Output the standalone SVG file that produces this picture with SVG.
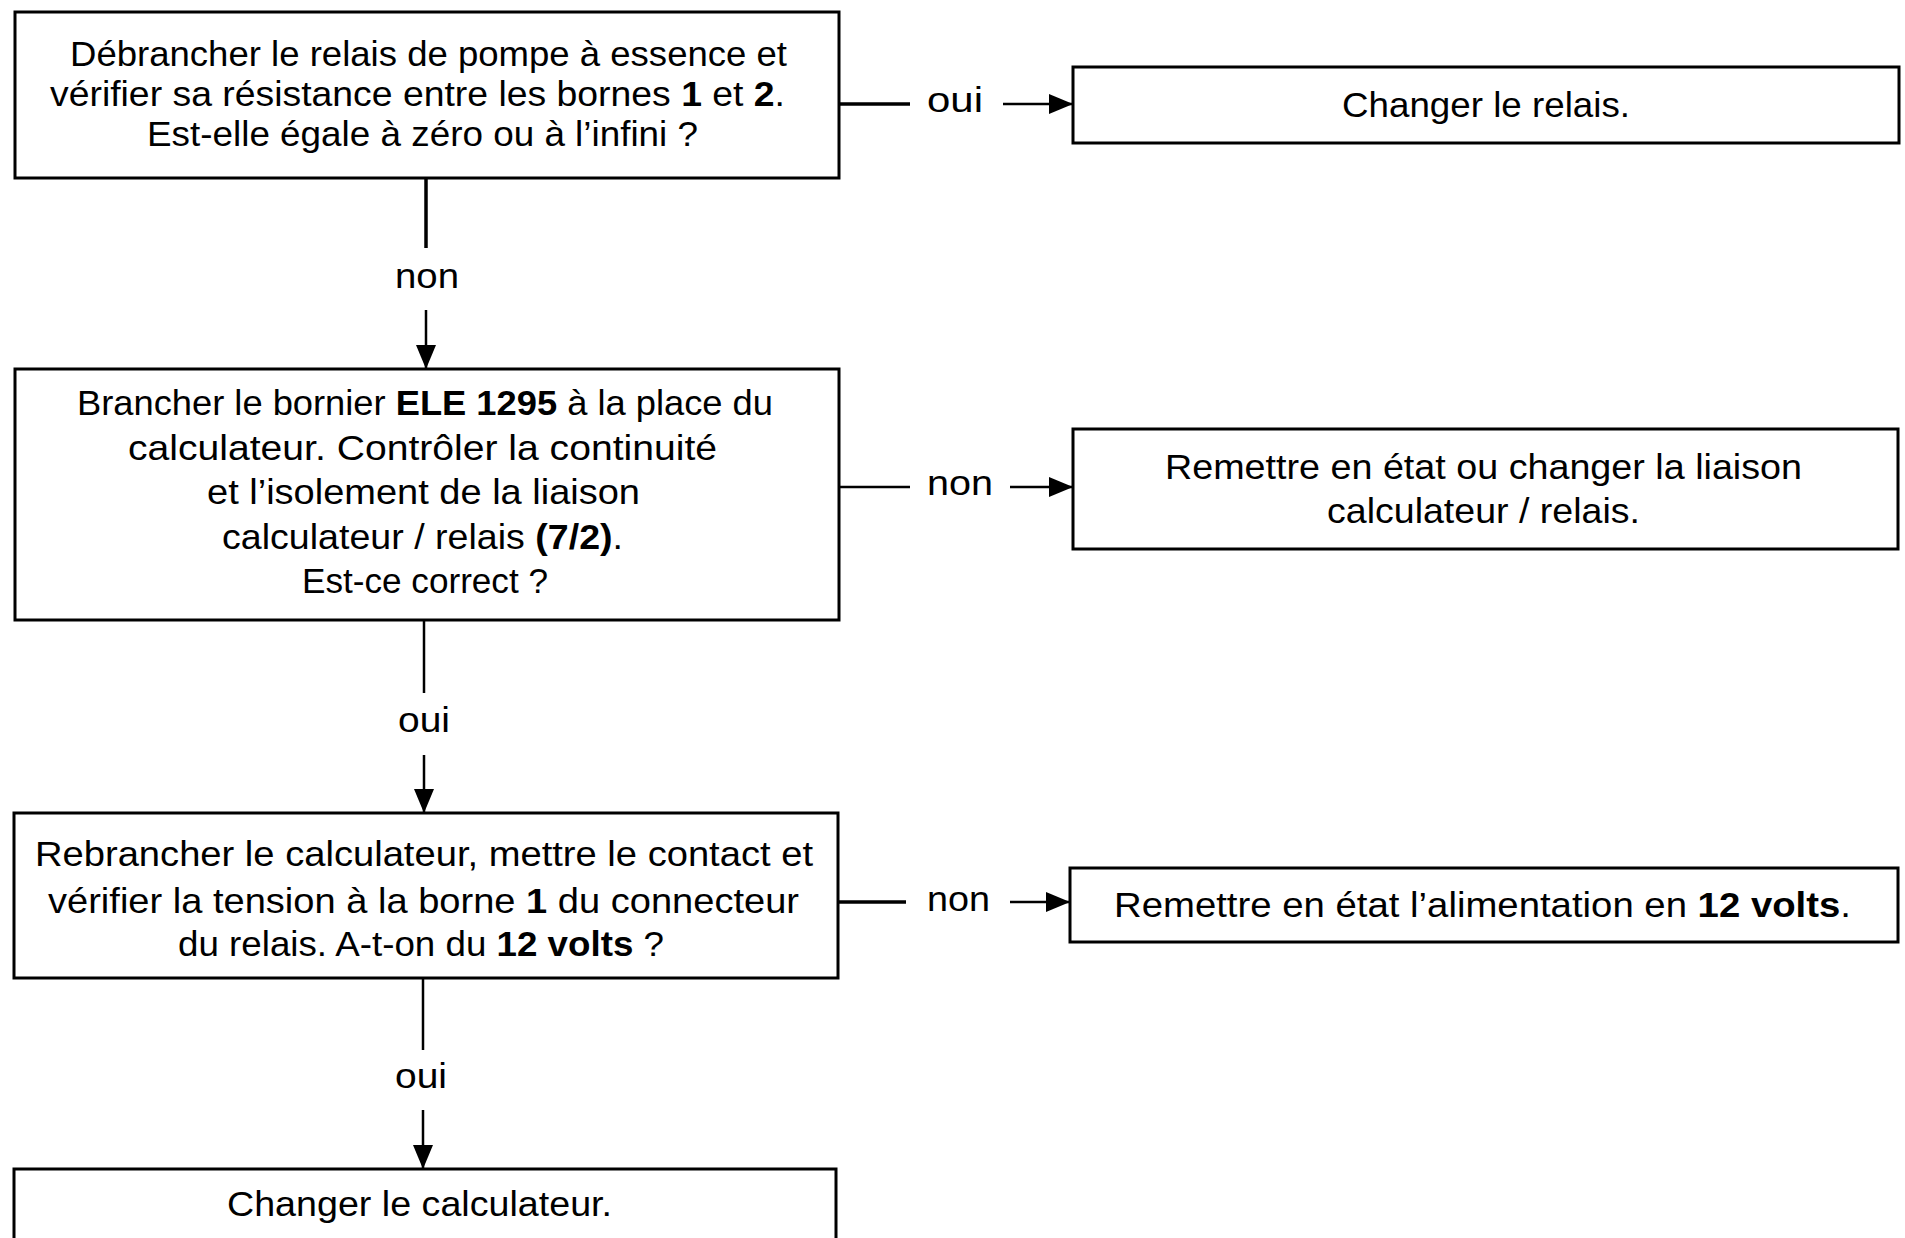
<svg xmlns="http://www.w3.org/2000/svg" width="1905" height="1238" viewBox="0 0 1905 1238">
  <style>
    .box { fill: #ffffff; stroke: #000000; stroke-width: 3; }
    .wire { fill: none; stroke: #000000; stroke-width: 2.5; }
    .heavy { stroke-width: 3.5; }
    text { font-family: "Liberation Sans", "Arial", sans-serif; font-size: 35px; fill: #000000; }
    .b { font-weight: bold; }
  </style>
  <defs>
    <marker id="arrow" markerUnits="userSpaceOnUse" markerWidth="24" markerHeight="22" refX="24" refY="11" orient="auto">
      <path d="M0,1 L24,11 L0,21 z" fill="#000000"/>
    </marker>
  </defs>
  <rect width="1905" height="1238" fill="#ffffff"/>

  <!-- connectors with their yes/no labels -->
  <g id="connectors">
    <path class="wire heavy" d="M839,104 H910"/>
    <text x="927" y="112" textLength="56" lengthAdjust="spacingAndGlyphs">oui</text>
    <path class="wire" d="M1003,104 H1073" marker-end="url(#arrow)"/>

    <path class="wire heavy" d="M426,178 V248"/>
    <text x="395" y="288" textLength="64" lengthAdjust="spacingAndGlyphs">non</text>
    <path class="wire" d="M426,310 V369" marker-end="url(#arrow)"/>

    <path class="wire" d="M839,487 H910"/>
    <text x="927" y="495" textLength="66" lengthAdjust="spacingAndGlyphs">non</text>
    <path class="wire" d="M1010,487 H1073" marker-end="url(#arrow)"/>

    <path class="wire" d="M424,620 V693"/>
    <text x="398" y="732" textLength="52" lengthAdjust="spacingAndGlyphs">oui</text>
    <path class="wire" d="M424,755 V813" marker-end="url(#arrow)"/>

    <path class="wire heavy" d="M838,902 H906"/>
    <text x="927" y="911" textLength="63" lengthAdjust="spacingAndGlyphs">non</text>
    <path class="wire" d="M1010,902 H1070" marker-end="url(#arrow)"/>

    <path class="wire" d="M423,978 V1050"/>
    <text x="395" y="1088" textLength="52" lengthAdjust="spacingAndGlyphs">oui</text>
    <path class="wire" d="M423,1110 V1169" marker-end="url(#arrow)"/>
  </g>

  <!-- check: relay resistance -->
  <g id="step-relay-resistance">
    <rect class="box" x="15" y="12" width="824" height="166"/>
    <text x="70" y="66" textLength="717" lengthAdjust="spacingAndGlyphs">Débrancher le relais de pompe à essence et</text>
    <text x="50" y="106" textLength="735" lengthAdjust="spacingAndGlyphs">vérifier sa résistance entre les bornes <tspan class="b">1</tspan> et <tspan class="b">2</tspan>.</text>
    <text x="147" y="146" textLength="551" lengthAdjust="spacingAndGlyphs">Est-elle égale à zéro ou à l’infini ?</text>
  </g>

  <g id="action-change-relay">
    <rect class="box" x="1073" y="67" width="826" height="76"/>
    <text x="1342" y="117" textLength="288" lengthAdjust="spacingAndGlyphs">Changer le relais.</text>
  </g>

  <!-- check: wiring continuity with the terminal block -->
  <g id="step-wiring-continuity">
    <rect class="box" x="15" y="369" width="824" height="251"/>
    <text x="77" y="415" textLength="696" lengthAdjust="spacingAndGlyphs">Brancher le bornier <tspan class="b">ELE 1295</tspan> à la place du</text>
    <text x="128" y="460" textLength="589" lengthAdjust="spacingAndGlyphs">calculateur. Contrôler la continuité</text>
    <text x="207" y="504" textLength="433" lengthAdjust="spacingAndGlyphs">et l’isolement de la liaison</text>
    <text x="222" y="549" textLength="401" lengthAdjust="spacingAndGlyphs">calculateur / relais <tspan class="b">(7/2)</tspan>.</text>
    <text x="302" y="593" textLength="246" lengthAdjust="spacingAndGlyphs">Est-ce correct ?</text>
  </g>

  <g id="action-repair-link">
    <rect class="box" x="1073" y="429" width="825" height="120"/>
    <text x="1165" y="479" textLength="637" lengthAdjust="spacingAndGlyphs">Remettre en état ou changer la liaison</text>
    <text x="1327" y="523" textLength="313" lengthAdjust="spacingAndGlyphs">calculateur / relais.</text>
  </g>

  <!-- check: 12 V supply on relay terminal 1 -->
  <g id="step-supply-voltage">
    <rect class="box" x="14" y="813" width="824" height="165"/>
    <text x="35" y="866" textLength="778" lengthAdjust="spacingAndGlyphs">Rebrancher le calculateur, mettre le contact et</text>
    <text x="48" y="913" textLength="751" lengthAdjust="spacingAndGlyphs">vérifier la tension à la borne <tspan class="b">1</tspan> du connecteur</text>
    <text x="178" y="956" textLength="486" lengthAdjust="spacingAndGlyphs">du relais. A-t-on du <tspan class="b">12 volts</tspan> ?</text>
  </g>

  <g id="action-repair-supply">
    <rect class="box" x="1070" y="868" width="828" height="74"/>
    <text x="1114" y="917" textLength="737" lengthAdjust="spacingAndGlyphs">Remettre en état l’alimentation en <tspan class="b">12 volts</tspan>.</text>
  </g>

  <g id="action-change-ecu">
    <rect class="box" x="14" y="1169" width="822" height="120"/>
    <text x="227" y="1216" textLength="385" lengthAdjust="spacingAndGlyphs">Changer le calculateur.</text>
  </g>
</svg>
